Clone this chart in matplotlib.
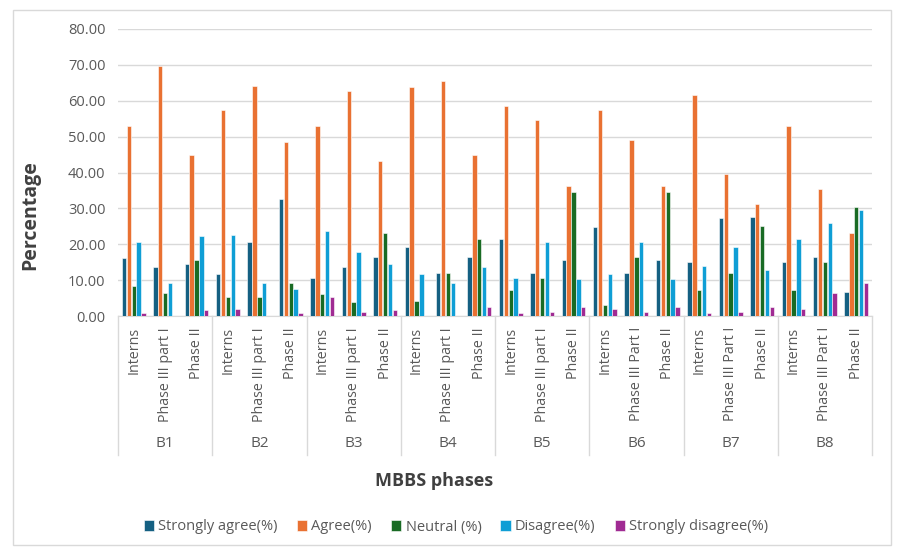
# Likert responses by batch and MBBS phase, grouped bar chart.
import matplotlib.pyplot as plt
from matplotlib.patches import Rectangle
from matplotlib.transforms import blended_transform_factory

plt.rcParams['font.family'] = ['Open Sans', 'DejaVu Sans']

groups = ["B1", "B2", "B3", "B4", "B5", "B6", "B7", "B8"]
phases = [
    "Interns", "Phase III part I", "Phase II",
    "Interns", "Phase III part I", "Phase II",
    "Interns", "Phase III part I", "Phase II",
    "Interns", "Phase III part I", "Phase II",
    "Interns", "Phase III part I", "Phase II",
    "Interns", "Phase III Part I", "Phase II",
    "Interns", "Phase III Part I", "Phase II",
    "Interns", "Phase III Part I", "Phase II",
]

strongly_agree = [16.1, 13.6, 14.4, 11.7, 20.5, 32.7, 10.6, 13.6, 16.4,
                  19.3, 12.0, 16.4, 21.6, 12.0, 15.5, 24.8, 12.0, 15.5,
                  15.0, 27.3, 27.5, 15.0, 16.4, 6.8]
agree = [52.9, 69.7, 45.0, 57.4, 64.2, 48.6, 52.9, 62.8, 43.1,
         63.9, 65.5, 45.0, 58.4, 54.6, 36.3, 57.4, 49.1, 36.3,
         61.7, 39.6, 31.1, 52.9, 35.4, 23.2]
neutral = [8.5, 6.5, 15.6, 5.2, 5.2, 9.2, 6.2, 3.8, 23.2,
           4.1, 12.0, 21.6, 7.3, 10.6, 34.6, 3.0, 16.4, 34.6,
           7.3, 12.0, 25.0, 7.3, 15.0, 30.3]
disagree = [20.5, 9.2, 22.3, 22.6, 9.2, 7.6, 23.7, 17.8, 14.4,
            11.7, 9.2, 13.6, 10.6, 20.5, 10.3, 11.7, 20.5, 10.3,
            13.9, 19.1, 12.8, 21.6, 26.0, 29.5]
strongly_disagree = [0.7, 0.0, 1.6, 1.9, 0.0, 0.7, 5.2, 1.0, 1.6,
                     0.0, 0.0, 2.4, 0.7, 1.0, 2.4, 1.9, 1.0, 2.4,
                     0.7, 1.0, 2.4, 1.9, 6.5, 9.2]

series = [
    ("Strongly agree(%)", strongly_agree, "#156082"),
    ("Agree(%)", agree, "#E97132"),
    ("Neutral (%)", neutral, "#196B24"),
    ("Disagree(%)", disagree, "#0F9ED5"),
    ("Strongly disagree(%)", strongly_disagree, "#A02B93"),
]

fig = plt.figure(figsize=(9.02, 5.54), dpi=100)
ax = fig.add_axes([118 / 902, 1 - 316 / 554, (872 - 118) / 902, (316 - 29) / 554])

x = list(range(len(phases)))
w = 0.14
for j, (name, vals, col) in enumerate(series):
    pos = [i + (j - 2) * (w + 0.015) for i in x]
    ax.bar(pos, vals, width=w, color=col, edgecolor="white", linewidth=0.4,
           label=name, zorder=3)

ax.set_xlim(-0.5, len(phases) - 0.5)
ax.set_ylim(0, 80)
ax.set_yticks(range(0, 81, 10))
ax.set_yticklabels(["%.2f" % v for v in range(0, 81, 10)], fontsize=10.5, color="#595959")
ax.yaxis.grid(True, color="#d9d9d9", linewidth=1, zorder=0)
ax.tick_params(axis="y", length=0, pad=9)
ax.tick_params(axis="x", length=0, pad=8)
ax.set_xticks(x)
ax.set_xticklabels(phases, rotation=90, fontsize=10.3, color="#595959", va="top")
for s in ["top", "right", "left"]:
    ax.spines[s].set_visible(False)
ax.spines["bottom"].set_color("#d9d9d9")

# group separators and group labels under the phase labels
trans = blended_transform_factory(ax.transData, ax.transAxes)
for k in range(len(groups) + 1):
    xb = k * 3 - 0.5
    ax.plot([xb, xb], [0, -0.485], transform=trans, color="#d9d9d9",
            linewidth=1, clip_on=False)
for k, g in enumerate(groups):
    ax.text(k * 3 + 1, -0.445, g, transform=trans, ha="center", va="center",
            fontsize=11, color="#595959")

fig.text(434 / 902, 1 - 481 / 554, "MBBS phases", ha="center", va="center",
         fontsize=13, fontweight="bold", color="#404040")
fig.text(30 / 902, 1 - 215 / 554, "Percentage", ha="center", va="center",
         rotation=90, fontsize=14, fontweight="bold", color="#404040")

fig.legend(loc="center", bbox_to_anchor=(456 / 902, 1 - 527 / 554), ncol=5,
           frameon=False, fontsize=10.5, handlelength=0.7, handleheight=0.7,
           handletextpad=0.3, columnspacing=1.3, labelcolor="#595959")

fig.patches.append(Rectangle((13 / 902, 1 - 545 / 554), (891 - 13) / 902, (545 - 10) / 554,
                             transform=fig.transFigure, fill=False,
                             edgecolor="#d9d9d9", linewidth=1))

fig.savefig("out.png", dpi=100)
